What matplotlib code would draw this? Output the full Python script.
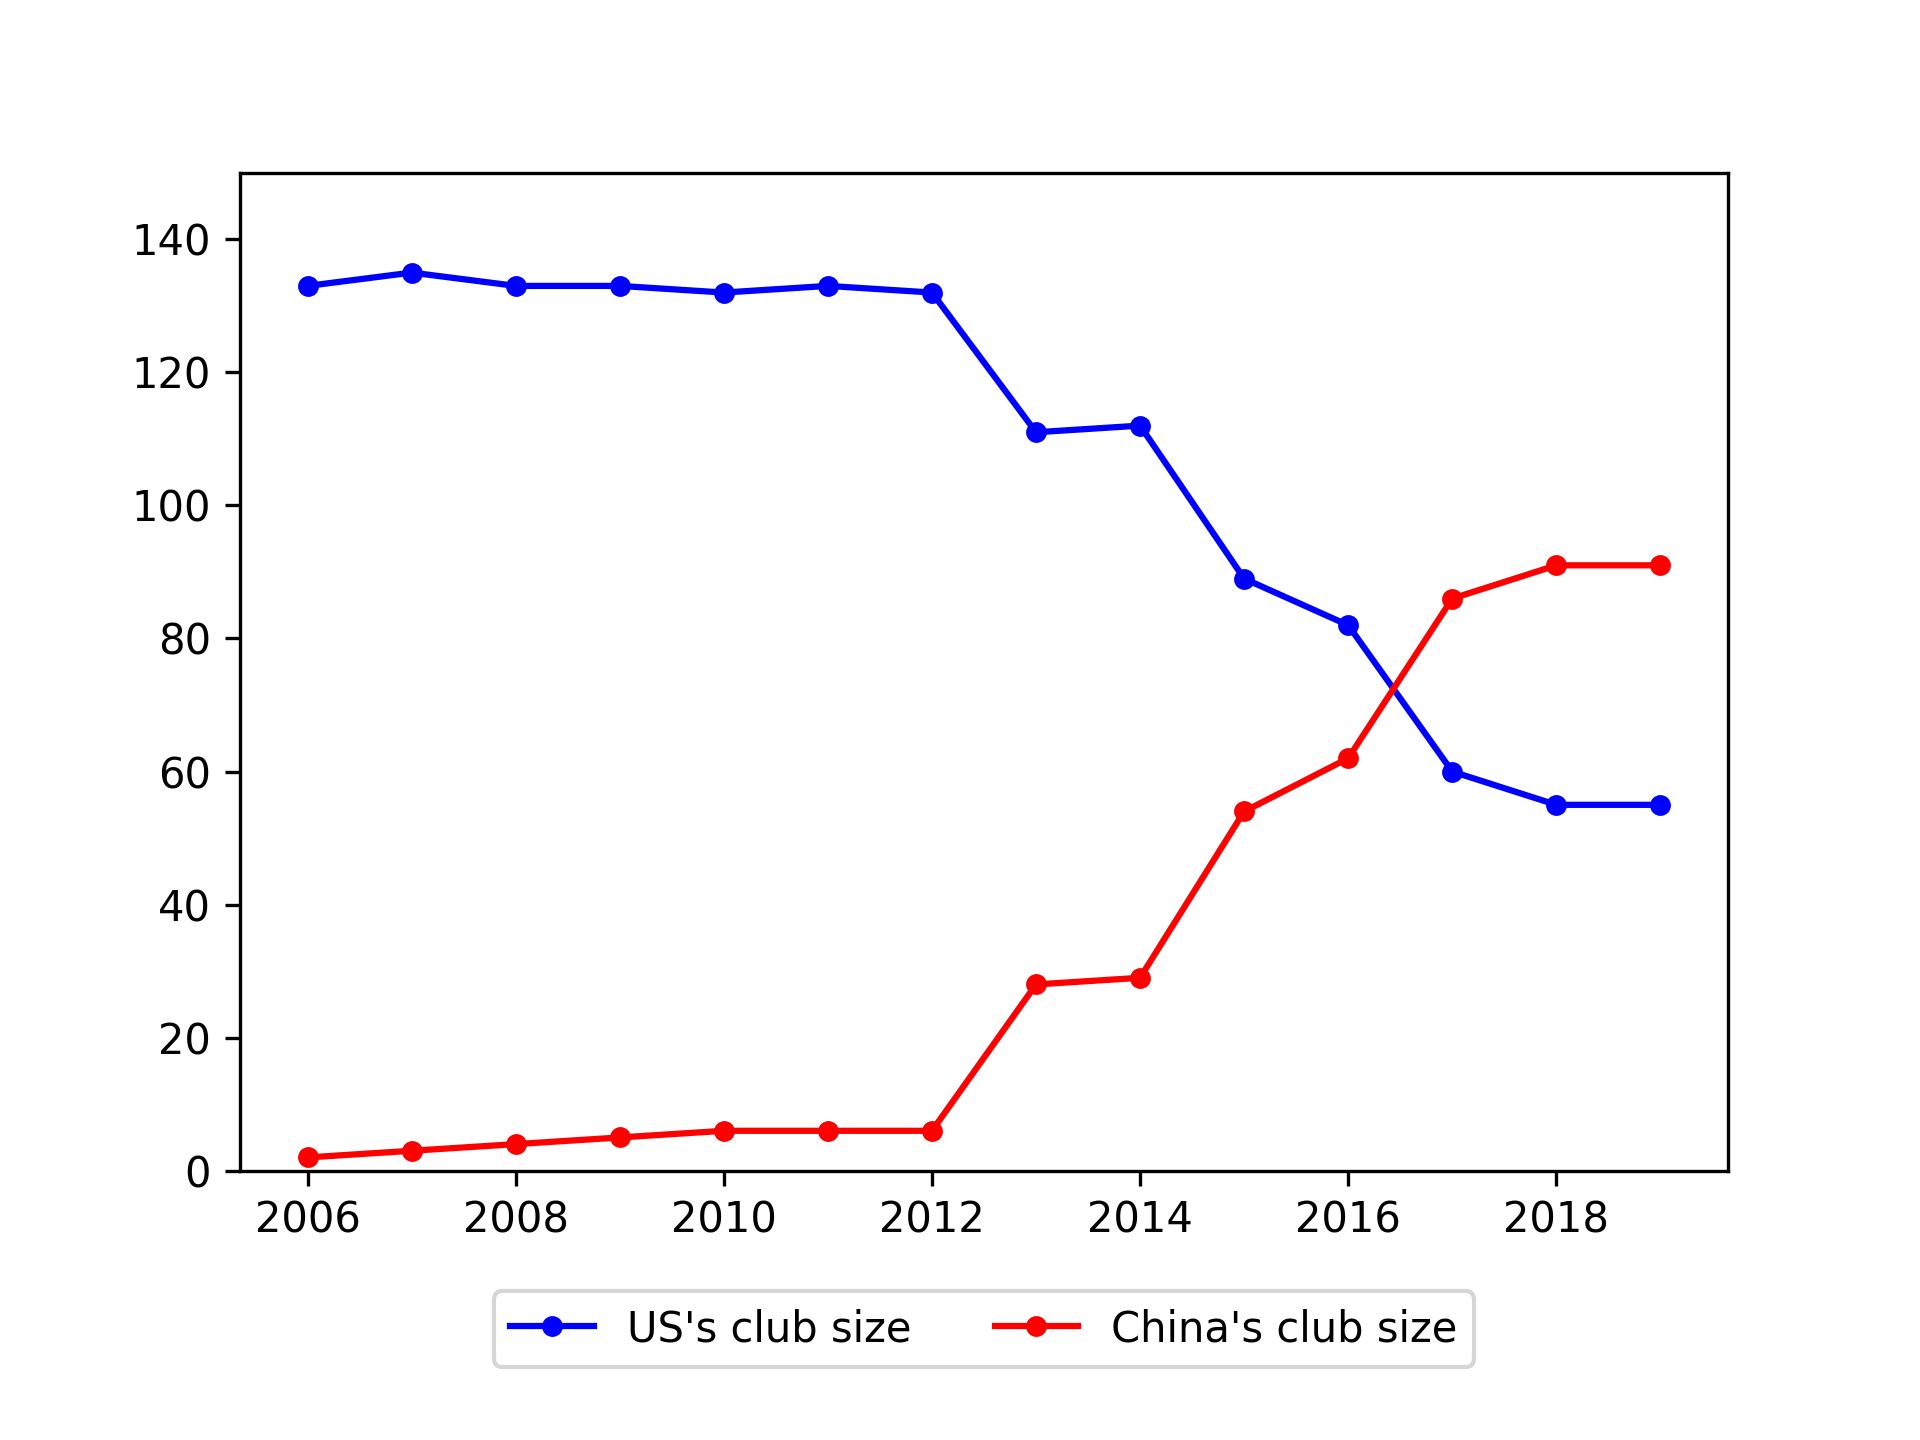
import numpy as np
import matplotlib
matplotlib.use('Agg')
import matplotlib.pyplot as plt

years = [2006, 2007, 2008, 2009, 2010, 2011, 2012, 2013, 2014, 2015, 2016, 2017, 2018, 2019]
us_club = [133, 135, 133, 133, 132, 133, 132, 111, 112, 89, 82, 60, 55, 55]
china_club = [2, 3, 4, 5, 6, 6, 6, 28, 29, 54, 62, 86, 91, 91]

fig = plt.figure(figsize=(6.4, 4.8))
ax = fig.add_subplot(111)
fig.subplots_adjust(bottom=0.187, top=0.88)

ax.plot(years, us_club, 'b.-', markersize=8, label="US's club size")
ax.plot(years, china_club, 'r.-', markersize=8, label="China's club size")
ax.set_ylim(0, 150)

ax.legend(loc='upper center', bbox_to_anchor=(0.5, -0.1), ncol=2)

fig.savefig('out.png', dpi=300)
